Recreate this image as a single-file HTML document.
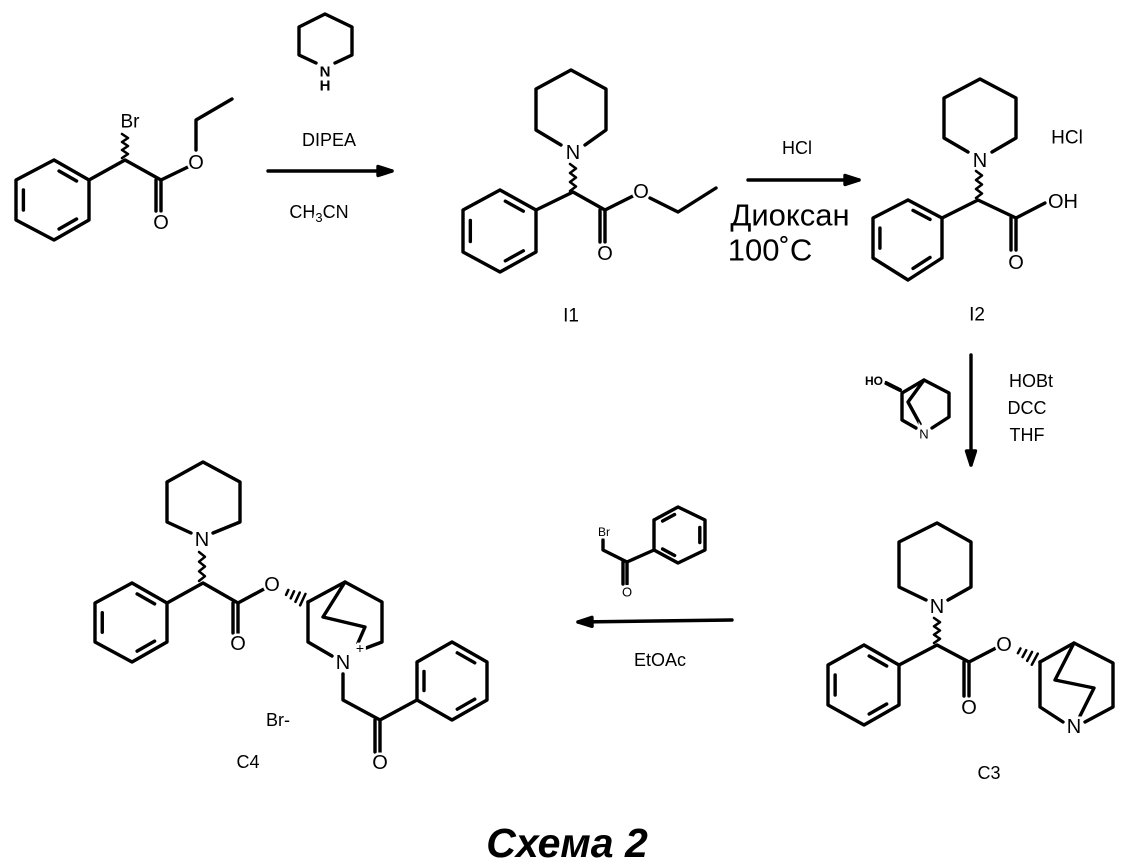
<!DOCTYPE html>
<html><head><meta charset="utf-8"><style>
html,body{margin:0;padding:0;background:#fff;}
svg{display:block;}
text{font-family:"Liberation Sans",sans-serif;fill:#000;stroke:#fff;stroke-width:5px;paint-order:stroke;text-anchor:middle;dominant-baseline:central;}
.r text{stroke:none;}
</style></head><body>
<svg id="s" width="1128" height="868" viewBox="0 0 1128 868" xmlns="http://www.w3.org/2000/svg">
<g id="b" fill="none" stroke="#000" stroke-width="3.4" stroke-linecap="round" stroke-linejoin="round"></g>
<g id="t">
<!-- starting material -->
<text x="130" y="122" font-size="19">Br</text>
<text x="196" y="163" font-size="20">O</text>
<text x="161" y="223" font-size="20">O</text>
<!-- piperidine reagent -->
<text x="325" y="72" font-size="15" font-weight="bold">N</text>
<text x="325" y="86" font-size="15" font-weight="bold">H</text>
<text x="329" y="140" font-size="18">DIPEA</text>
<text x="319" y="212" font-size="18">CH<tspan font-size="13" dy="5">3</tspan><tspan dy="-5">CN</tspan></text>
<!-- I1 -->
<text x="573" y="153" font-size="20">N</text>
<text x="641" y="192" font-size="20">O</text>
<text x="605" y="254" font-size="20">O</text>
<text x="571" y="316" font-size="19">I1</text>
<!-- arrow 2 -->
<text x="797" y="148" font-size="18">HCl</text>
<text x="790" y="215" font-size="31">Диоксан</text>
<text x="770" y="250" font-size="31">100˚C</text>
<!-- I2 -->
<text x="980" y="161" font-size="20">N</text>
<text x="1067" y="138" font-size="19">HCl</text>
<text x="1063" y="202" font-size="20">OH</text>
<text x="1016" y="263" font-size="20">O</text>
<text x="977" y="315" font-size="19">I2</text>
<!-- quinuclidinol reagent -->
<text x="874" y="381" font-size="12" font-weight="bold">HO</text>
<text x="924" y="434" font-size="13">N</text>
<text x="1031" y="381" font-size="18">HOBt</text>
<text x="1027" y="408" font-size="18">DCC</text>
<text x="1027" y="435" font-size="18">THF</text>
<!-- phenacyl bromide -->
<text x="604" y="532" font-size="12">Br</text>
<text x="627" y="592" font-size="13">O</text>
<text x="660" y="660" font-size="18">EtOAc</text>
<!-- C3 -->
<text x="937" y="607" font-size="20">N</text>
<text x="1004" y="645" font-size="20">O</text>
<text x="969" y="708" font-size="20">O</text>
<text x="1074" y="727" font-size="20">N</text>
<text x="989" y="773" font-size="18">C3</text>
<!-- C4 -->
<text x="202" y="540" font-size="20">N</text>
<text x="272" y="585" font-size="20">O</text>
<text x="238" y="644" font-size="20">O</text>
<text x="343" y="663" font-size="20">N</text>
<text x="360" y="648" font-size="14">+</text>
<text x="380" y="763" font-size="20">O</text>
<text x="278" y="720" font-size="18">Br-</text>
<text x="248" y="762" font-size="18">C4</text>
<text x="567" y="843" font-size="41" font-weight="bold" font-style="italic">Схема 2</text>
</g>
</svg>
<script>
var g=document.getElementById('b'),NS='http://www.w3.org/2000/svg';
function P(a,extra){var e=document.createElementNS(NS,'polyline');e.setAttribute('points',a.map(function(p){return p.join(',')}).join(' '));if(extra)for(var k in extra)e.setAttribute(k,extra[k]);g.appendChild(e);return e;}
function ring(pts){P(pts.concat([pts[0]]));}
function benz(pts,idx){ring(pts);var cx=0,cy=0;pts.forEach(function(p){cx+=p[0];cy+=p[1]});cx/=6;cy/=6;
idx.forEach(function(i){var a=pts[i],b=pts[(i+1)%6];function sh(p,q){return [p[0]+(cx-p[0])*0.2+(q[0]-p[0])*0.15,p[1]+(cy-p[1])*0.2+(q[1]-p[1])*0.15];}
P([sh(a,b),sh(b,a)]);});}
function wavy(x,y1,y2){var pts=[],n=6;for(var i=0;i<=n;i++){pts.push([x+(i%2?3:-3),y1+(y2-y1)*i/n]);}P(pts,{'stroke-width':2.5});}
function hash(a,b){for(var i=1;i<=4;i++){var t=i/5,x=a[0]+(b[0]-a[0])*t,y=a[1]+(b[1]-a[1])*t,w=1.5+i*1.2;var dx=-(b[1]-a[1]),dy=b[0]-a[0],l=Math.hypot(dx,dy);dx/=l;dy/=l;P([[x-dx*w,y-dy*w],[x+dx*w,y+dy*w]],{'stroke-width':2.5});}}
function arrow(x1,y1,x2,y2){P([[x1,y1],[x2,y2]]);var dx=x2-x1,dy=y2-y1,l=Math.hypot(dx,dy);dx/=l;dy/=l;
var e=document.createElementNS(NS,'polygon');var bx=x2-dx*14,by=y2-dy*14;e.setAttribute('points',x2+','+y2+' '+(bx-dy*4.5)+','+(by+dx*4.5)+' '+(bx+dy*4.5)+','+(by-dx*4.5));e.setAttribute('fill','#000');g.appendChild(e);}
function dbl(a,b,off){P([a,b]);P([[a[0]+off,a[1]],[b[0]+off,b[1]]]);}
// starting material
benz([[54,160],[89,180],[89,220],[54,240],[16,220],[16,180]],[0,2,4]);
P([[89,180],[125,160],[161,180],[190,166]]);
wavy(125,158,134);
P([[196,150],[196,120],[232,99]]);
dbl([161,180],[161,211],-5);
// piperidine reagent
P([[316,63],[299,55],[299,27],[325,14],[352,27],[352,55],[335,63]]);
arrow(268,171,392,171);
// I1
benz([[500,190],[536,210],[536,252],[500,272],[463,252],[463,210]],[0,2,4]);
P([[561,145],[536,130],[536,89],[571,70],[606,89],[606,130],[585,145]]);
wavy(573,164,191);
P([[536,210],[573,192],[605,210],[633,196]]);
dbl([605,210],[605,242],-5);
P([[650,198],[678,212],[716,188]]);
arrow(748,180,859,180);
// I2
P([[968,152],[944,138],[944,98],[980,79],[1016,98],[1016,138],[992,152]]);
benz([[908,200],[942,218],[942,258],[908,280],[873,258],[873,218]],[0,2,4]);
wavy(979,171,198);
P([[942,218],[978,200],[1016,218],[1045,203]]);
dbl([1016,218],[1016,250],-5);
// quinuclidinol
P([[916,428],[902,420],[902,393],[924,380],[949,393],[949,417],[932,428]]);
P([[924,380],[908,402],[920,424]]);
P([[886,383],[900,390]],{'stroke-width':4});
arrow(971,355,971,465);
// phenacyl bromide
P([[603,540],[603,550],[627,562],[654,550]]);
dbl([627,562],[627,584],-4);
benz([[654,520],[678,507],[705,520],[705,550],[678,563],[654,550]],[0,2,4]);
arrow(732,620,578,622);
// C3
P([[926,600],[899,587],[899,542],[937,523],[971,542],[971,587],[948,600]]);
wavy(937,618,643);
benz([[864,645],[899,665],[899,705],[864,725],[828,705],[828,665]],[0,2,4]);
P([[899,665],[937,645],[969,662],[996,648]]);
dbl([969,662],[969,696],-5);
hash([1014,648],[1040,662]);
P([[1040,662],[1074,643],[1113,663],[1113,707],[1085,722]]);
P([[1063,722],[1040,707],[1040,662]]);
P([[1074,643],[1055,680],[1094,688],[1080,716]]);
// C4
P([[191,533],[167,522],[167,482],[203,462],[240,482],[240,522],[213,533]]);
wavy(202,552,581);
benz([[132,583],[167,603],[167,642],[132,662],[95,642],[95,603]],[0,2,4]);
P([[167,603],[203,583],[238,603],[264,589]]);
dbl([238,603],[238,633],-5);
hash([282,590],[308,602]);
P([[308,602],[345,582],[382,602],[382,642],[366,648]]);
P([[332,656],[308,642],[308,602]]);
P([[345,582],[323,617],[365,627],[358,643]]);
P([[343,674],[343,700],[380,720],[417,700]]);
dbl([380,720],[380,752],-5);
benz([[417,700],[417,662],[452,642],[487,662],[487,700],[452,720]],[0,2,4]);
</script>
</body></html>
